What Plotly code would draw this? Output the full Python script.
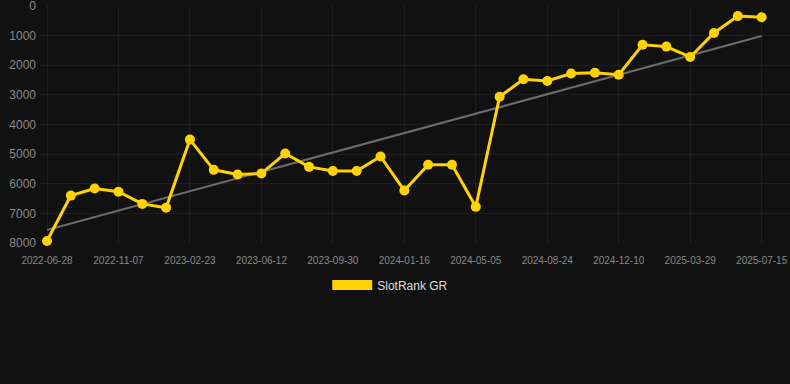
import numpy as np
import plotly.graph_objects as go

tick_labels = ["2022-06-28", "2022-11-07", "2023-02-23", "2023-06-12", "2023-09-30",
               "2024-01-16", "2024-05-05", "2024-08-24", "2024-12-10", "2025-03-29",
               "2025-07-15"]
ranks = [7930, 6400, 6160, 6270, 6680, 6810, 4510, 5530, 5690, 5650,
         4980, 5430, 5570, 5570, 5080, 6230, 5360, 5360, 6780, 3060,
         2470, 2530, 2280, 2250, 2320, 1310, 1370, 1720, 910, 340, 380]
series_name = "SlotRank GR"

idx = np.arange(len(ranks))
slope, intercept = np.polyfit(idx, ranks, 1)
trend = slope * idx + intercept

GOLD = "#FFD200"
fig = go.Figure()
fig.add_trace(go.Scatter(x=idx, y=trend, mode="lines",
                         line=dict(color="#6b6b6b", width=2),
                         showlegend=False, hoverinfo="skip"))
fig.add_trace(go.Scatter(x=idx, y=ranks, mode="lines+markers",
                         line=dict(color=GOLD, width=3),
                         marker=dict(color=GOLD, size=10),
                         cliponaxis=False, showlegend=False))
fig.add_trace(go.Scatter(x=[None], y=[None], mode="lines", name=series_name,
                         line=dict(color=GOLD, width=12), showlegend=True))

fig.update_layout(
    width=790, height=384,
    paper_bgcolor="#111111", plot_bgcolor="#111111",
    margin=dict(l=40, r=0, t=6, b=141),
    font=dict(family="Liberation Sans, Arial, sans-serif", color="#888888"),
    xaxis=dict(range=[-0.294, 31.19], tickvals=idx[::3], ticktext=tick_labels,
               showgrid=True, gridcolor="#1e1e1e", gridwidth=1, zeroline=False,
               tickfont=dict(size=10, color="#888888"), ticks="", showline=False,
               ticklabelstandoff=10, ticklabeloverflow="allow"),
    yaxis=dict(range=[8000, -1], dtick=1000, tick0=0, showgrid=True, gridcolor="#1e1e1e",
               zeroline=False, tickfont=dict(size=12, color="#888888"),
               ticks="", ticklabelstandoff=3, ticklabeloverflow="allow"),
    legend=dict(orientation="h", x=0.467, xanchor="center", y=-0.177, yanchor="middle",
                font=dict(size=12, color="#dddddd"), itemwidth=40,
                bgcolor="rgba(0,0,0,0)"),
)
fig.write_html("out.html", config={"displayModeBar": False},
               post_script="document.body.style.margin='0';")
